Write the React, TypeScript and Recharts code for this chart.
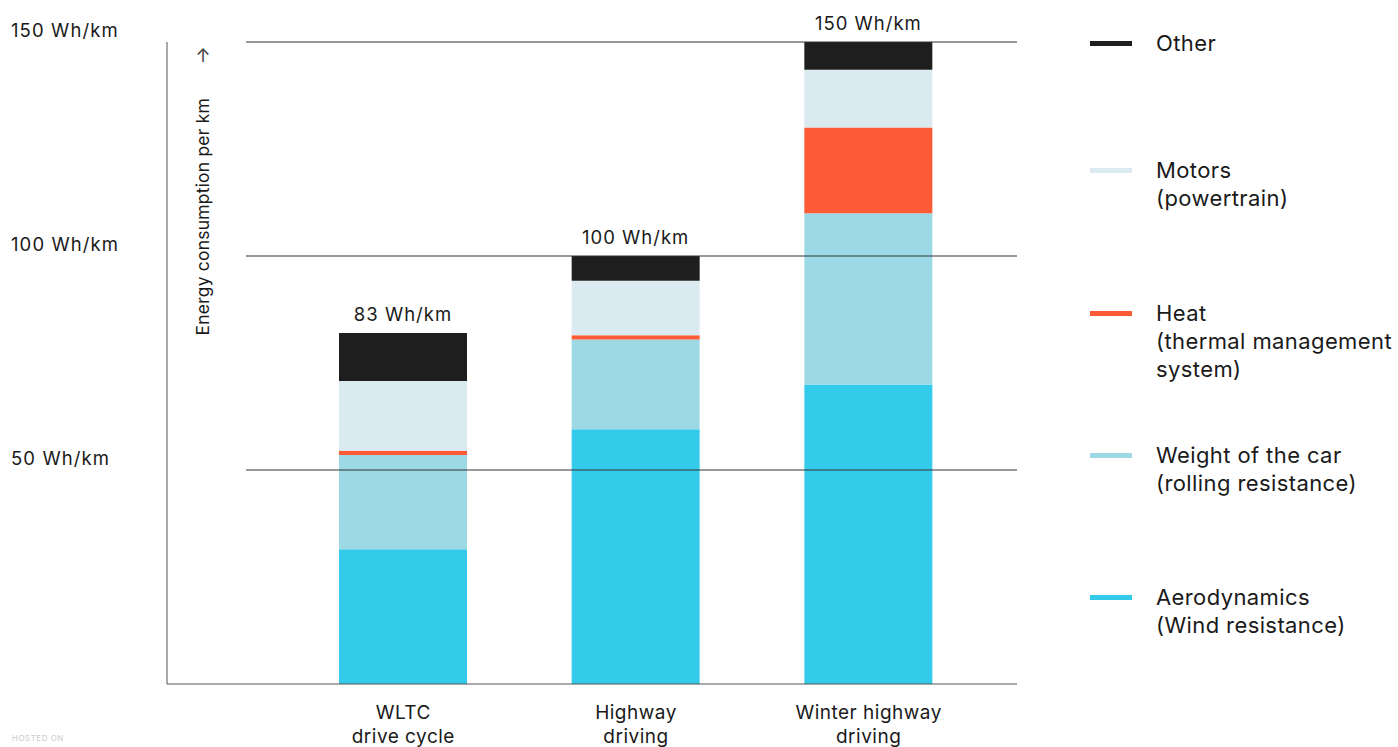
import { BarChart, Bar, XAxis, YAxis, ReferenceLine, LabelList } from 'recharts'

// categories (two-line tick labels)
const categories = ['WLTC\ndrive cycle', 'Highway\ndriving', 'Winter highway\ndriving']

// stacked segments, Wh/km, bottom to top
const aerodynamics = [31.5, 59.5, 70]
const weight = [22, 21, 40]
const heat = [1, 1, 20]
const motors = [16.3, 12.7, 13.5]
const other = [11.2, 5.8, 6.5]

const totalLabels = ['83 Wh/km', '100 Wh/km', '150 Wh/km']
const yTicks = [50, 100, 150]
const gridValues = [50, 100, 150]

const series = [
  { key: 'aero', name: ['Aerodynamics', '(Wind resistance)'], color: '#34caea', values: aerodynamics },
  { key: 'weight', name: ['Weight of the car', '(rolling resistance)'], color: '#9cd9e5', values: weight },
  { key: 'heat', name: ['Heat', '(thermal management', 'system)'], color: '#fd5b35', values: heat },
  { key: 'motors', name: ['Motors', '(powertrain)'], color: '#dbe9f0', values: motors },
  { key: 'other', name: ['Other'], color: '#1e1e1e', values: other },
]

const data = categories.map((c, i) => {
  const row: any = { name: c }
  series.forEach(s => { row[s.key] = s.values[i] })
  return row
})

const FONT = 'Inter, "Noto Sans", sans-serif'
const TEXT = '#1a1a1a'

const YTick = ({ y, payload }: any) => (
  <text x={11} y={y - 5} fontSize={18.5} letterSpacing={1.1} fontFamily={FONT} fill={TEXT} textAnchor="start">
    {payload.value} Wh/km
  </text>
)

const XTick = ({ x, y, payload }: any) => {
  const lines = String(payload.value).split('\n')
  return (
    <text x={x} y={y} fontSize={19} letterSpacing={0.5} fontFamily={FONT} fill={TEXT} textAnchor="middle">
      {lines.map((l, i) => (
        <tspan key={i} x={x} dy={i === 0 ? 35 : 24}>{l}</tspan>
      ))}
    </text>
  )
}

const AxisTitle = ({ viewBox }: any) => {
  const x = viewBox.x + viewBox.width + 36
  return (
    <g>
      <text x={x} y={62} fontSize={18} fontFamily={FONT} fill="#444" textAnchor="middle">↑</text>
      <text
        x={x + 6}
        y={98}
        transform={`rotate(-90 ${x + 6} 98)`}
        fontSize={17.5}
        letterSpacing={0.2}
        fontFamily={FONT}
        fill={TEXT}
        textAnchor="end"
      >
        Energy consumption per km
      </text>
    </g>
  )
}

const TotalLabel = ({ x, y, width, index }: any) => (
  <text x={x + width / 2} y={y - 12} fontSize={18.5} letterSpacing={1} fontFamily={FONT} fill={TEXT} textAnchor="middle">
    {totalLabels[index]}
  </text>
)

const legendTops = [29, 156, 299, 441, 583]

const ChartLegend = () => (
  <div style={{ position: 'absolute', left: 1090, top: 0, width: 308, height: 700, fontFamily: FONT }}>
    {[...series].reverse().map((s, i) => (
      <div key={s.key} style={{ position: 'absolute', left: 0, top: legendTops[i], display: 'flex' }}>
        <div style={{ width: 42, height: 5, background: s.color, marginTop: 12, marginRight: 24 }} />
        <div style={{ fontSize: 22, lineHeight: '28px', color: TEXT, letterSpacing: 0.4 }}>
          {s.name.map((n, j) => <div key={j} style={{ whiteSpace: 'nowrap' }}>{n}</div>)}
        </div>
      </div>
    ))}
  </div>
)

export default function App() {
  return (
    <div style={{ position: 'absolute', left: 0, top: 0, width: 1398, height: 747, background: '#fff', overflow: 'hidden' }}>
      <BarChart
        width={1398}
        height={747}
        data={data}
        margin={{ top: 42, right: 381, bottom: 0, left: 0 }}
        barSize={128}
      >
        <XAxis
          dataKey="name"
          height={63}
          padding={{ left: 120, right: 32 }}
          tickLine={false}
          tickSize={0}
          tickMargin={0}
          axisLine={{ stroke: '#555' }}
          tick={<XTick />}
          interval={0}
        />
        <YAxis
          width={167}
          domain={[0, 150]}
          ticks={yTicks}
          tickLine={false}
          axisLine={{ stroke: '#555' }}
          tick={<YTick />}
          label={<AxisTitle />}
        />
        {series.map(s => (
          <Bar key={s.key} dataKey={s.key} stackId="a" fill={s.color} isAnimationActive={false}>
            {s.key === 'other' && <LabelList dataKey="other" content={<TotalLabel />} />}
          </Bar>
        ))}
        {gridValues.map(v => (
          <ReferenceLine
            key={v}
            y={v}
            stroke="#333"
            strokeWidth={1}
            shape={(p: any) => <line x1={p.x1 + 79} y1={p.y1} x2={p.x2} y2={p.y2} stroke="#333" strokeWidth={1} />}
          />
        ))}
      </BarChart>
      <ChartLegend />
      <div style={{ position: 'absolute', left: 12, top: 733, fontSize: 8, lineHeight: '10px', color: '#ccc', fontFamily: FONT, letterSpacing: 0.5 }}>
        HOSTED ON
      </div>
    </div>
  )
}
